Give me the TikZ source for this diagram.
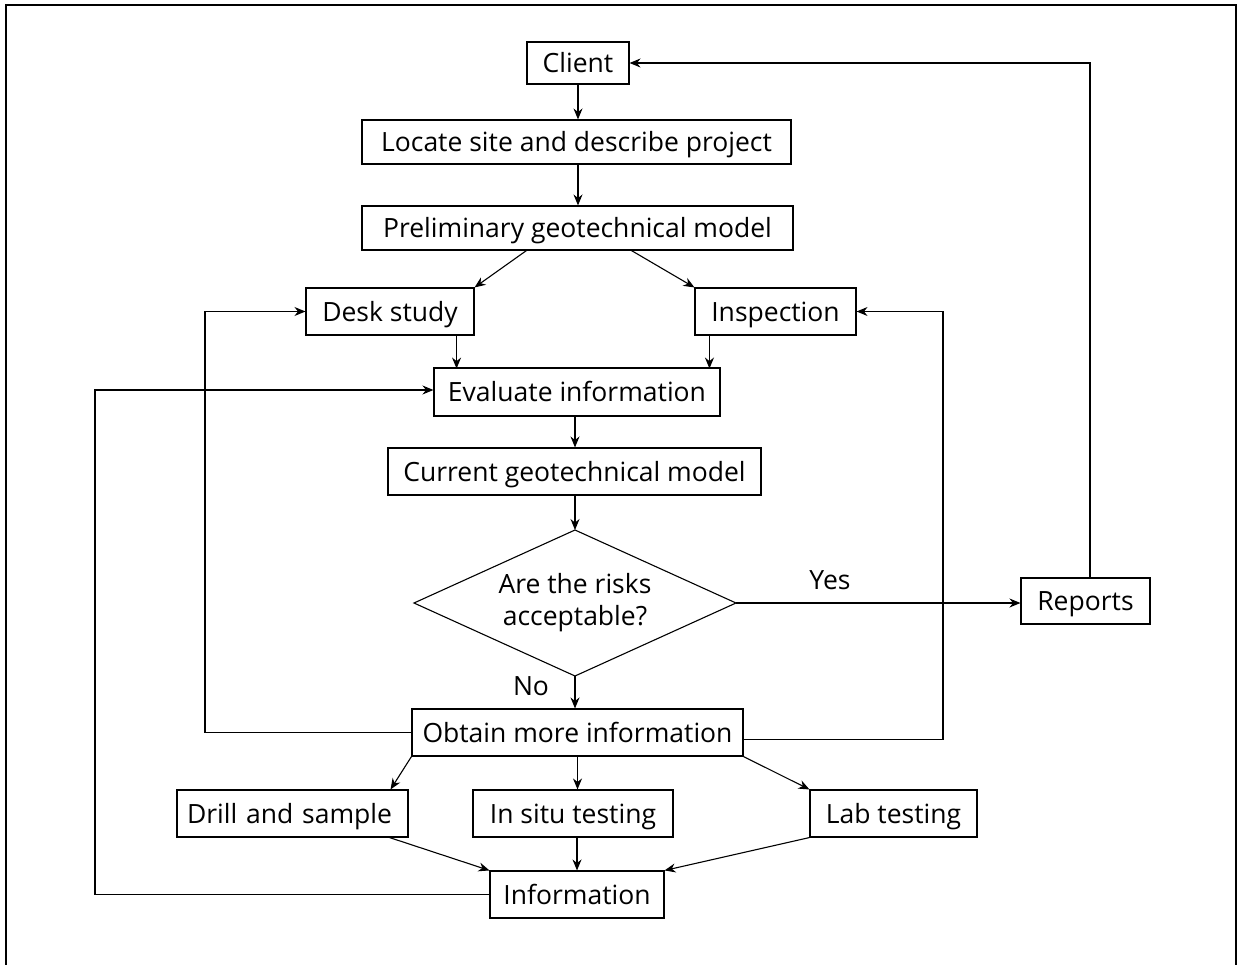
\documentclass[tikz,border=0pt]{standalone}
\usepackage{fontspec}
\setmainfont{Open Sans}
\usetikzlibrary{shapes.geometric,arrows.meta}
\begin{document}
\begin{tikzpicture}[x=1pt,y=-1pt,
  every node/.style={font=\fontsize{26.5}{32}\selectfont},
  box/.style={draw,line width=1.1pt,inner sep=0pt,align=center,text height=19pt,text depth=0pt},
  conn/.style={line width=1.1pt,-{Stealth[length=11pt,width=9pt]}},
  plain/.style={line width=1.1pt}]
\useasboundingbox (0,0) rectangle (1238,965);
\draw[line width=1.5pt] (6,966) -- (6,5) -- (1236,5) -- (1236,966);
\node[box,minimum width=102,minimum height=42] (client) at (578,63) {Client};
\node[box,minimum width=429,minimum height=44] (locate) at (576.5,142) {Locate site and describe project};
\node[box,minimum width=431,minimum height=44] (prelim) at (577.5,228) {Preliminary geotechnical model};
\node[box,minimum width=168,minimum height=47] (desk) at (390,311.5) {Desk study};
\node[box,minimum width=161,minimum height=47] (insp) at (775.5,311.5) {Inspection};
\node[box,minimum width=286,minimum height=48] (eval) at (577,392) {Evaluate information};
\node[box,minimum width=373,minimum height=47] (curr) at (574.5,471.5) {Current geotechnical model};
% decision diamond
\coordinate (riskN) at (575,530);
\coordinate (riskE) at (736,603);
\coordinate (riskS) at (575,676);
\coordinate (riskW) at (414,603);
\draw[line width=1.1pt] (riskN) -- (riskE) -- (riskS) -- (riskW) -- cycle;
\node[align=center] (risk) at (575,603) {Are the risks\\acceptable?};
\node[box,minimum width=129,minimum height=46] (rep) at (1085.5,601) {Reports};
\node[box,minimum width=331,minimum height=47] (obt) at (577.5,732.5) {Obtain more information};
\node[box,minimum width=231,minimum height=47,text width=211pt,align=left] (drill) at (292.5,813.5) {Drill and sample};
\node[box,minimum width=200,minimum height=47] (insitu) at (573,813.5) {In situ testing};
\node[box,minimum width=167,minimum height=47] (lab) at (893.5,813.5) {Lab testing};
\node[box,minimum width=174,minimum height=47] (info) at (577,894.5) {Information};
\node (yes) at (830,580) {Yes};
\node (no) at (531,686) {No};
\coordinate (lx) at (205,0);
\coordinate (rx) at (943,0);
\coordinate (ix) at (95,0);
\coordinate (rtop) at (1090,0);
\draw[conn] (client.south) -- (client.south |- locate.north);
\draw[conn] (client.south |- locate.south) -- (client.south |- prelim.north);
\draw[conn] (prelim.south west) ++(165,0) -- (desk.north east);
\draw[conn] (prelim.south west) ++(270,0) -- (insp.north west);
\draw[conn] (desk.south east) ++(-18,0) -- ++(0,33);
\draw[conn] (insp.south west) ++(15,0) -- ++(0,33);
\draw[conn] (eval.south -| riskN) -- (curr.north -| riskN);
\draw[conn] (curr.south -| riskN) -- (riskN);
\draw[conn] (riskE) -- (rep.west |- riskE);
\draw[conn] (riskS) -- (riskS |- obt.north);
\draw[conn] (obt.west) -- (lx |- obt.west) -- (lx |- desk.west) -- (desk.west);
\draw[conn] ([yshift=-7]obt.east) -- ([yshift=-7]rx |- obt.east) -- (rx |- insp.east) -- (insp.east);
\draw[conn] (obt.south west) -- ([xshift=-18]drill.north east);
\draw[conn] (obt.south) -- (obt.south |- insitu.north);
\draw[conn] (obt.south east) -- (lab.north west);
\draw[conn] ([xshift=-19]drill.south east) -- (info.north west);
\draw[conn] (insitu.south -| info.north) -- (info.north);
\draw[conn] (lab.south west) -- (info.north east);
\draw[conn] (info.west) -- (ix |- info.west) -- ([yshift=2]ix |- eval.west) -- ([yshift=2]eval.west);
\draw[conn] (rep.north -| rtop) -- (rtop |- client.east) -- (client.east);
\end{tikzpicture}
\end{document}
